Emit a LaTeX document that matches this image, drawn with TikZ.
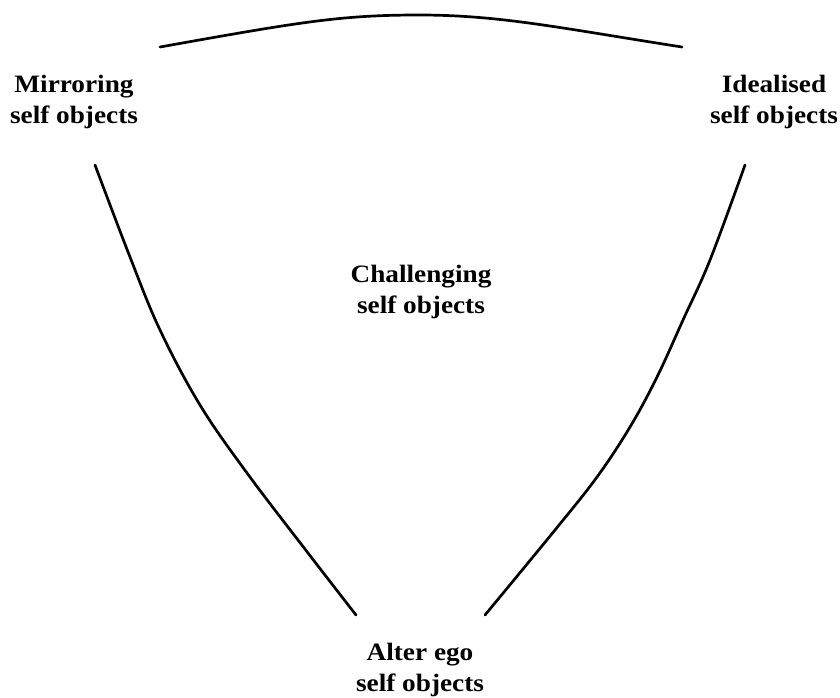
\documentclass[tikz,border=0pt]{standalone}
\usepackage{fontspec}
\setmainfont[FakeStretch=1.09]{Liberation Serif}
\begin{document}
\begin{tikzpicture}[x=1pt,y=-1pt,
  lbl/.style={font=\fontsize{25}{31}\selectfont\bfseries, align=center, inner sep=0pt},
  arc/.style={line width=2.7pt, line cap=round, line join=round}]
\useasboundingbox (0,0) rectangle (840,697);
% labels
\node[lbl] (mir) at (74,101.5) {Mirroring\\self objects};
\node[lbl] (ide) at (774,101.5) {Idealised\\self objects};
\node[lbl] (cha) at (421,291.5) {Challenging\\self objects};
\node[lbl] (alt) at (420,670) {Alter ego\\self objects};
% end points of the three boundary curves
\coordinate (t1) at (160,47);
\coordinate (t2) at (682,47);
\coordinate (l1) at (95,165);
\coordinate (l2) at (356,615);
\coordinate (r1) at (745,165);
\coordinate (r2) at (485,615);
% top arch
\draw[arc] (t1) .. controls (300,22) and (340,15) .. (419,15)
           .. controls (500,15) and (560,28) .. (t2);
% left boundary
\draw[arc] plot[smooth, tension=0.6] coordinates {
  (l1) (130,257) (160,330) (200,405) (247,473) (308,553) (l2)};
% right boundary
\draw[arc] plot[smooth, tension=0.6] coordinates {
  (r1) (710,260) (683,320) (657,377) (630,427) (597,477) (555,530) (r2)};
\end{tikzpicture}
\end{document}
